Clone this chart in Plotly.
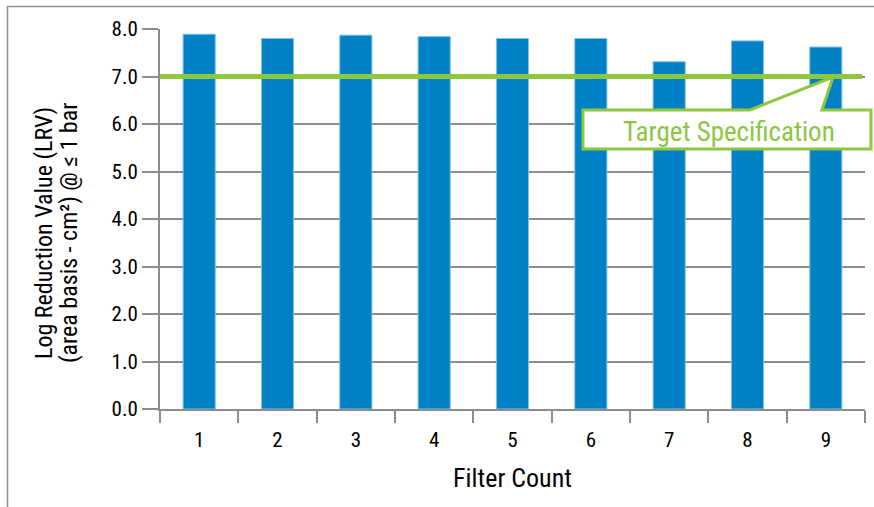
import plotly.graph_objects as go

categories = ["1", "2", "3", "4", "5", "6", "7", "8", "9"]
lrv_values = [7.89, 7.80, 7.87, 7.84, 7.80, 7.80, 7.31, 7.75, 7.62]
target_value = 7.0
y_ticks = [0, 1, 2, 3, 4, 5, 6, 7, 8]
y_tick_labels = ["0.0", "1.0", "2.0", "3.0", "4.0", "5.0", "6.0", "7.0", "8.0"]
y_title_lines = ["Log Reduction Value (LRV)", "(area basis - cm²) @ ≤ 1 bar"]

FONT = "Roboto Condensed, Roboto, sans-serif"
BLUE = "#0080C5"
GREEN = "#8DC63F"
GRID = "#8C8C8C"

W, H = 874, 507
L, R, T, B = 160, 865, 29, 409


def px(x):
    return (x - L) / (R - L)


def py(y):
    return (B - y) / (B - T)


fig = go.Figure()
fig.add_trace(go.Bar(
    x=categories, y=lrv_values,
    marker=dict(color=BLUE, line=dict(color="#7FC0E6", width=1)),
    width=0.41, hoverinfo="x+y",
))

fig.update_layout(
    width=W, height=H,
    margin=dict(l=L, r=W - R, t=T, b=H - B),
    plot_bgcolor="white", paper_bgcolor="white",
    showlegend=False,
    font=dict(family=FONT, color="black", size=20),
    xaxis=dict(
        type="category", tickson="boundaries", ticks="outside", ticklen=12,
        tickcolor=GRID, tickwidth=2, showline=True, linecolor=GRID, linewidth=2,
        showgrid=False, tickfont=dict(size=21), ticklabelstandoff=11,
        title=dict(text="Filter Count", font=dict(size=26), standoff=18),
    ),
    yaxis=dict(
        range=[0, 8], tickvals=y_ticks, ticktext=y_tick_labels,
        ticks="outside", ticklen=16, tickcolor=GRID, tickwidth=2,
        showline=True, linecolor=GRID, linewidth=2,
        showgrid=True, gridcolor=GRID, gridwidth=1.5, zeroline=False,
        tickfont=dict(size=21),
    ),
)

# y-axis title (two lines placed individually)
for text, cx in zip(y_title_lines, [44, 69]):
    fig.add_annotation(xref="paper", yref="paper", x=px(cx), y=py(233),
                       text=text, textangle=-90, showarrow=False,
                       font=dict(size=24, color="black", family=FONT),
                       xanchor="center", yanchor="middle")

# outer frame
fig.add_shape(type="rect", xref="paper", yref="paper",
              x0=px(7.5), x1=px(890), y0=py(6.5), y1=py(530),
              line=dict(color="#8F8F8F", width=1.5), fillcolor="rgba(0,0,0,0)",
              layer="below")

# target line
fig.add_shape(type="line", xref="paper", yref="y",
              x0=0, x1=px(862), y0=target_value, y1=target_value,
              line=dict(color=GREEN, width=5), layer="above")

# callout box
pts = [(583, 149), (583, 110), (750, 110), (833, 77), (822, 110), (871, 110), (871, 149)]
path = "M " + " L ".join(f"{px(x):.5f},{py(y):.5f}" for x, y in pts) + " Z"
fig.add_shape(type="path", xref="paper", yref="paper", path=path,
              fillcolor="white", line=dict(color=GREEN, width=3), layer="above")

fig.add_annotation(xref="paper", yref="paper", x=px(729), y=py(132),
                   text="Target Specification", showarrow=False,
                   font=dict(size=27, color=GREEN, family=FONT),
                   xanchor="center", yanchor="middle")

fig.write_html("out.html", config={"displayModeBar": False},
               post_script="document.body.style.margin='0';")
